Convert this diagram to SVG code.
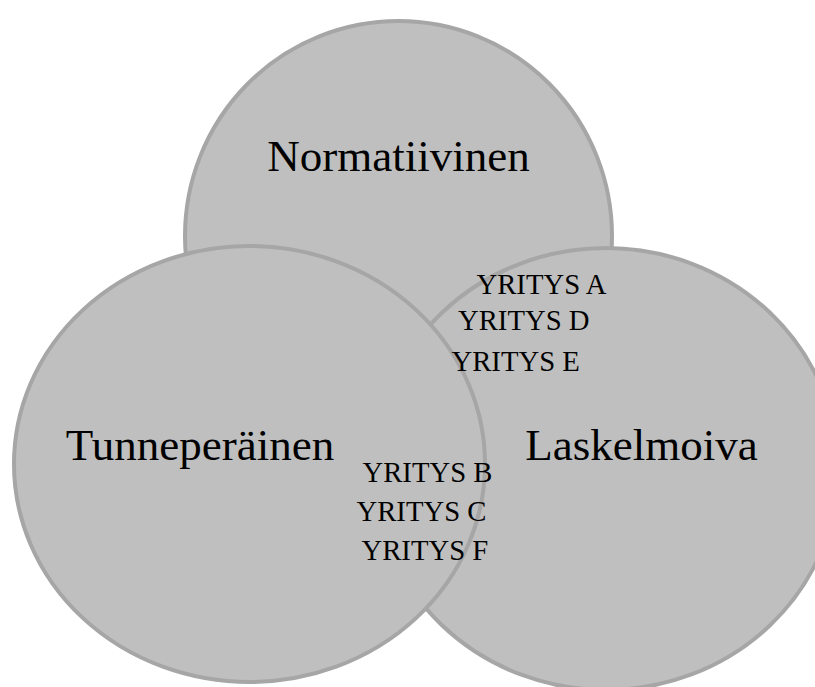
<svg xmlns="http://www.w3.org/2000/svg" width="815" height="687" viewBox="0 0 815 687">
<style>
.c{fill:#bfbfbf;stroke:#a6a6a6;stroke-width:4}
.big{font-family:"Liberation Serif","Times New Roman",serif;font-size:45px;fill:#000;text-anchor:middle}
.small{font-family:"Liberation Serif","Times New Roman",serif;font-size:28.7px;fill:#000}
</style>
<rect width="815" height="687" fill="#fff"/>
<g id="normatiivinen">
<ellipse class="c" cx="398.5" cy="236" rx="213.5" ry="215"/>
<text class="big" x="398.5" y="171">Normatiivinen</text>
</g>
<g id="laskelmoiva">
<ellipse class="c" cx="606" cy="469" rx="232" ry="221"/>
<text class="big" x="641.5" y="460">Laskelmoiva</text>
</g>
<g id="tunneperainen">
<ellipse class="c" cx="249.5" cy="464" rx="235.5" ry="218"/>
<text class="big" x="200" y="460">Tunneperäinen</text>
</g>
<g id="overlap-labels">
<text class="small" x="476.5" y="293.5">YRITYS A</text>
<text class="small" x="458" y="330">YRITYS D</text>
<text class="small" x="451.5" y="371">YRITYS E</text>
<text class="small" x="362.5" y="481.5">YRITYS B</text>
<text class="small" x="356.5" y="520.5">YRITYS C</text>
<text class="small" x="361.5" y="560">YRITYS F</text>
</g>
<g id="connectors"/>
</svg>
